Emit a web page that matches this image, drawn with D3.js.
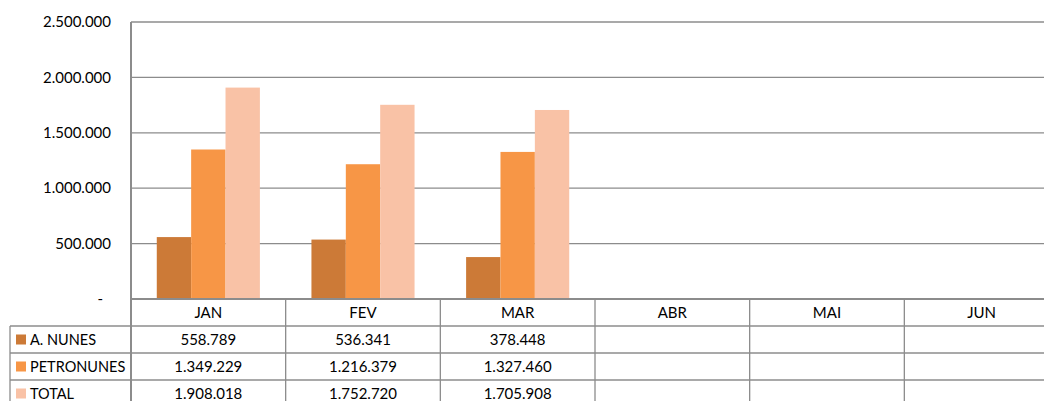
<html>
<head>
<style>
  html, body { margin: 0; padding: 0; background: #fff; }
  svg text { font-family: Lato, "Open Sans", sans-serif; font-size: 15px; fill: #000; }
  svg text.lbl { font-size: 14.5px; }
</style>
</head>
<body>
<svg id="viz"></svg>
<script src="https://cdn.jsdelivr.net/npm/d3@7"></script>
<script>
// chart data
var months = ["JAN", "FEV", "MAR", "ABR", "MAI", "JUN"];
var seriesNames = ["A. NUNES", "PETRONUNES", "TOTAL"];
var aNunes = [558789, 536341, 378448, null, null, null];
var petronunes = [1349229, 1216379, 1327460, null, null, null];
var total = [1908018, 1752720, 1705908, null, null, null];
var yTicks = [0, 500000, 1000000, 1500000, 2000000, 2500000];
var colors = ["#CC7A37", "#F79646", "#F9C2A6"];

var width = 1044, height = 401;
// note: "top" is taken by window.top, so plot* names
var plotLeft = 131, plotTop = 22, plotBottom = 299, plotRight = 1059;
var rowH = 27;
var gridColor = "#8c8c8c";

var values = [aNunes, petronunes, total];

var br = d3.formatLocale({decimal: ",", thousands: ".", grouping: [3], currency: ["R$", ""]});
var fmt = br.format(",d");

var svg = d3.select("#viz").attr("width", width).attr("height", height);

var x = d3.scaleBand().domain(months).range([plotLeft, plotRight]);
// excel style gap width 150%
var barW = x.bandwidth() / (3 + 1.5);
var xs = d3.scaleBand().domain(seriesNames).range([0, barW * 3]);
var y = d3.scaleLinear().domain([0, 2500000]).range([plotBottom, plotTop]);

// gridlines
svg.append("g").selectAll("line")
    .data(yTicks.slice(1))
    .enter().append("line")
    .attr("x1", plotLeft).attr("x2", plotRight)
    .attr("y1", function(d) { return y(d); })
    .attr("y2", function(d) { return y(d); })
    .attr("stroke", gridColor).attr("stroke-width", 1.3);

// y labels
svg.append("g").selectAll("text")
    .data(yTicks)
    .enter().append("text")
    .attr("x", function(d) { return d == 0 ? 103 : 111; })
    .attr("y", function(d) { return y(d); })
    .attr("dy", "0.35em")
    .attr("text-anchor", "end")
    .text(function(d) { return d == 0 ? "-" : fmt(d); });

// bars
var groups = svg.append("g").selectAll("g")
    .data(seriesNames)
    .enter().append("g")
    .attr("fill", function(d, i) { return colors[i]; });

groups.selectAll("rect")
    .data(function(s, i) {
        return months.map(function(m, j) { return {m: m, s: s, v: values[i][j]}; })
            .filter(function(d) { return d.v != null; });
    })
    .enter().append("rect")
    .attr("x", function(d) { return x(d.m) + barW * 0.75 + xs(d.s); })
    .attr("y", function(d) { return y(d.v); })
    .attr("width", xs.bandwidth())
    .attr("height", function(d) { return plotBottom - y(d.v); });

// axes lines
svg.append("line").attr("x1", plotLeft).attr("x2", plotLeft).attr("y1", plotTop).attr("y2", height)
    .attr("stroke", gridColor).attr("stroke-width", 2);
svg.append("line").attr("x1", plotLeft).attr("x2", plotRight).attr("y1", plotBottom).attr("y2", plotBottom)
    .attr("stroke", gridColor).attr("stroke-width", 2);

// data table
var table = svg.append("g");
// month header
table.selectAll("text.hdr")
    .data(months)
    .enter().append("text")
    .attr("class", "hdr")
    .attr("x", function(d) { return x(d) + x.bandwidth() / 2; })
    .attr("y", plotBottom + 14)
    .attr("dy", "0.35em")
    .attr("text-anchor", "middle")
    .text(function(d) { return d; });

// column separators
table.selectAll("line.col")
    .data(months.slice(1))
    .enter().append("line")
    .attr("x1", function(d) { return x(d); })
    .attr("x2", function(d) { return x(d); })
    .attr("y1", plotBottom).attr("y2", height)
    .attr("stroke", gridColor).attr("stroke-width", 1.3);

// row lines
var rowTops = seriesNames.map(function(s, i) { return plotBottom + rowH + i * rowH; });
table.selectAll("line.row")
    .data(rowTops)
    .enter().append("line")
    .attr("x1", 10).attr("x2", plotRight)
    .attr("y1", function(d) { return d; })
    .attr("y2", function(d) { return d; })
    .attr("stroke", gridColor).attr("stroke-width", 1.3);
table.append("line")
    .attr("x1", 10).attr("x2", 10)
    .attr("y1", rowTops[0]).attr("y2", height)
    .attr("stroke", gridColor).attr("stroke-width", 1.3);

seriesNames.forEach(function(s, i) {
    var cy = rowTops[i] + rowH / 2;
    table.append("rect")
        .attr("x", 16).attr("y", cy - 5)
        .attr("width", 10).attr("height", 10)
        .attr("fill", colors[i]);
    table.append("text")
        .attr("class", "lbl")
        .attr("x", 30).attr("y", cy)
        .attr("dy", "0.35em")
        .text(s);
    months.forEach(function(m, j) {
        if (values[i][j] == null) return;
        table.append("text")
            .attr("x", x(m) + x.bandwidth() / 2)
            .attr("y", cy)
            .attr("dy", "0.35em")
            .attr("text-anchor", "middle")
            .text(fmt(values[i][j]));
    });
});
</script>
</body>
</html>
